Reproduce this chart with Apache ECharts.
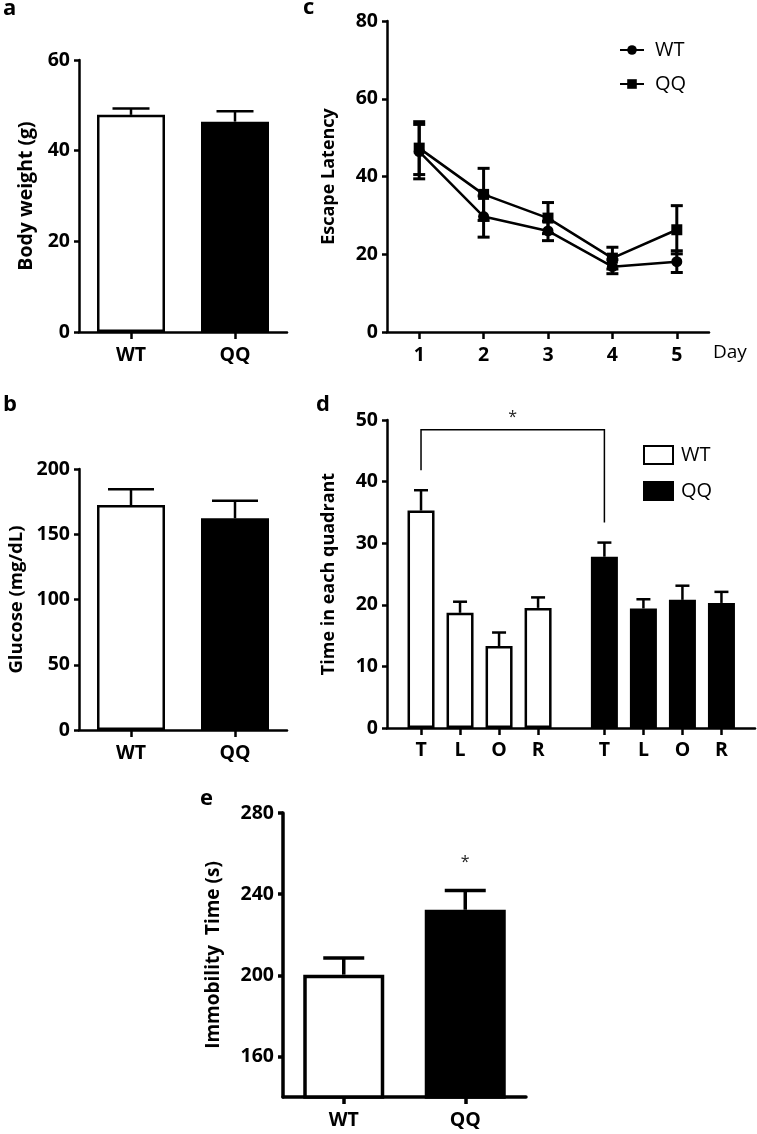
<!DOCTYPE html>
<html>
<head>
<meta charset="utf-8">
<script src="https://cdn.jsdelivr.net/npm/echarts@6/dist/echarts.min.js"></script>
<style>
html,body{margin:0;padding:0;background:#fff;}
#chart{width:757px;height:1134px;}
</style>
</head>
<body>
<div id="chart"></div>
<script>
// ---------------- data ----------------
const groups = ['WT', 'QQ'];

const bodyWeight = [47.9, 46.4];
const bodyWeightSem = [1.4, 2.3];
const bodyWeightTicks = [0, 20, 40, 60];

const glucose = [172.4, 162.2];
const glucoseSem = [12.0, 13.5];
const glucoseTicks = [0, 50, 100, 150, 200];

const days = ['1', '2', '3', '4', '5'];
const wtLatency = [46.4, 29.7, 26.0, 16.8, 18.1];
const wtLatencySem = [7.0, 5.3, 2.5, 1.8, 2.8];
const qqLatency = [47.3, 35.4, 29.3, 19.0, 26.3];
const qqLatencySem = [6.8, 6.7, 4.0, 2.8, 6.2];
const latencyTicks = [0, 20, 40, 60, 80];

const quadrants = ['T', 'L', 'O', 'R'];
const wtQuadrant = [35.3, 18.7, 13.3, 19.5];
const wtQuadrantSem = [3.3, 1.8, 2.2, 1.7];
const qqQuadrant = [27.8, 19.4, 20.8, 20.3];
const qqQuadrantSem = [2.3, 1.5, 2.3, 1.8];
const quadrantTicks = [0, 10, 20, 30, 40, 50];
const quadrantBracketLevel = [48.4];   // height of the significance bracket

const immobility = [200.3, 232.3];
const immobilitySem = [8.2, 9.5];
const immobilityTicks = [160, 200, 240, 280];

// ---------------- layout / style ----------------
const FONT = 'Open Sans';
const BLACK = '#000';
const barStyles = [
  { color: '#fff', borderColor: BLACK, borderWidth: 2.5 },
  { color: BLACK, borderColor: BLACK, borderWidth: 2.5 }
];
const barStylesThick = [
  { color: '#fff', borderColor: BLACK, borderWidth: 3.5 },
  { color: BLACK, borderColor: BLACK, borderWidth: 3.5 }
];
const quadrantGroupOffset = 4.7;   // axis units between WT and QQ groups
const quadrantX = (g, i) => i + 1 + g * quadrantGroupOffset;

function errorBars(capW, lw, both) {
  return function (params, api) {
    const x = api.value(0), y = api.value(1), e = api.value(2);
    const c = api.coord([x, y]);
    const t = api.coord([x, y + e]);
    const b = api.coord([x, y - e]);
    const mk = (x1, y1, x2, y2) => ({
      type: 'line', shape: { x1, y1, x2, y2 },
      style: { stroke: BLACK, lineWidth: lw, lineCap: 'butt' }
    });
    const ch = [mk(c[0], c[1], t[0], t[1]), mk(t[0] - capW / 2, t[1], t[0] + capW / 2, t[1])];
    if (both) {
      ch.push(mk(c[0], c[1], b[0], b[1]));
      ch.push(mk(b[0] - capW / 2, b[1], b[0] + capW / 2, b[1]));
    }
    return { type: 'group', children: ch };
  };
}

function starAbove(offset) {
  return function (params, api) {
    const p = api.coord([api.value(0), api.value(1)]);
    return {
      type: 'text',
      style: { text: '*', x: p[0], y: p[1] - offset, align: 'center', verticalAlign: 'middle',
        font: '16px "' + FONT + '"', fill: '#222' }
    };
  };
}

function yAxis(gridIndex, min, max, ticks, name, nameGap, lw, nameSize) {
  return {
    type: 'value', gridIndex, min, max,
    name, nameLocation: 'middle', nameGap,
    nameTextStyle: { fontFamily: FONT, fontSize: nameSize, fontWeight: 'bold', color: BLACK },
    axisLine: { show: true, lineStyle: { color: BLACK, width: lw } },
    axisTick: { show: true, inside: false, length: 5, lineStyle: { color: BLACK, width: lw }, customValues: ticks },
    axisLabel: { show: true, margin: 9, fontFamily: FONT, fontSize: 19.5, fontWeight: 'bold', color: BLACK, customValues: ticks },
    splitLine: { show: false }
  };
}

function xCatAxis(gridIndex, data, lw) {
  return {
    type: 'category', gridIndex, data, boundaryGap: true,
    axisLine: { show: true, onZero: false, lineStyle: { color: BLACK, width: lw } },
    axisTick: { show: true, alignWithLabel: true, interval: 0, length: 7, lineStyle: { color: BLACK, width: lw } },
    axisLabel: { show: true, interval: 0, margin: 13, fontFamily: FONT, fontSize: 19.5, fontWeight: 'bold', color: BLACK },
    splitLine: { show: false }
  };
}

const quadrantTickPos = [];
const quadrantTickLabels = [];
[0, 1].forEach(g => quadrants.forEach((q, i) => { quadrantTickPos.push(quadrantX(g, i)); quadrantTickLabels.push(q); }));

const xQuadrantAxis = {
  type: 'value', gridIndex: 3, min: 0.128, max: 9.56,
  axisLine: { show: true, onZero: false, lineStyle: { color: BLACK, width: 2.5 } },
  axisTick: { show: true, length: 7, lineStyle: { color: BLACK, width: 2.5 }, customValues: quadrantTickPos },
  axisLabel: {
    show: true, margin: 12, fontFamily: FONT, fontSize: 19.5, fontWeight: 'bold', color: BLACK,
    customValues: quadrantTickPos,
    formatter: v => {
      let best = 0;
      quadrantTickPos.forEach((p, i) => { if (Math.abs(p - v) < Math.abs(quadrantTickPos[best] - v)) best = i; });
      return quadrantTickLabels[best];
    }
  },
  splitLine: { show: false }
};

const xLatencyAxis = xCatAxis(2, days, 2.5);
xLatencyAxis.name = 'Day';
xLatencyAxis.nameLocation = 'end';
xLatencyAxis.nameGap = 4;
xLatencyAxis.nameTextStyle = { fontFamily: FONT, fontSize: 19, color: BLACK, verticalAlign: 'top', padding: [11, 0, 0, 0] };

const titleStyle = { fontFamily: FONT, fontSize: 22, fontWeight: 'bold', color: BLACK };

const option = {
  animation: false,
  backgroundColor: '#fff',
  textStyle: { fontFamily: FONT },
  title: [
    { text: 'a', left: 3, top: -2, textStyle: titleStyle, padding: 0 },
    { text: 'b', left: 3, top: 394, textStyle: titleStyle, padding: 0 },
    { text: 'c', left: 303, top: -3, textStyle: titleStyle, padding: 0 },
    { text: 'd', left: 316, top: 394, textStyle: titleStyle, padding: 0 },
    { text: 'e', left: 200, top: 788, textStyle: titleStyle, padding: 0 }
  ],
  legend: [
    {
      left: 614, top: 35, orient: 'vertical', selectedMode: false,
      data: ['WT latency', 'QQ latency'],
      formatter: n => n.split(' ')[0],
      itemWidth: 24, itemHeight: 12, itemGap: 14,
      textStyle: { fontFamily: FONT, fontSize: 20, color: BLACK, padding: [0, 0, 0, 6] }
    },
    {
      left: 638, top: 440, orient: 'vertical', selectedMode: false,
      data: ['WT quadrant', 'QQ quadrant'],
      formatter: n => n.split(' ')[0],
      icon: 'rect', itemWidth: 29, itemHeight: 18, itemGap: 16,
      textStyle: { fontFamily: FONT, fontSize: 20, color: BLACK, padding: [0, 0, 0, 3] }
    }
  ],
  grid: [
    { left: 79, top: 60, width: 208, height: 272 },
    { left: 79, top: 469, width: 208, height: 261 },
    { left: 387, top: 21, width: 322, height: 311 },
    { left: 387, top: 420, width: 368, height: 308 },
    { left: 283, top: 813, width: 243, height: 284 }
  ],
  xAxis: [
    xCatAxis(0, groups, 2.5),
    xCatAxis(1, groups, 2.5),
    xLatencyAxis,
    xQuadrantAxis,
    xCatAxis(4, groups, 3.5)
  ],
  yAxis: [
    yAxis(0, 0, 60, bodyWeightTicks, 'Body weight (g)', 43, 2.5, 19.5),
    yAxis(1, 0, 200, glucoseTicks, 'Glucose (mg/dL)', 53, 2.5, 18.5),
    yAxis(2, 0, 80, latencyTicks, 'Escape Latency', 49, 2.5, 18),
    yAxis(3, 0, 50, quadrantTicks, 'Time in each quadrant', 49, 2.5, 18),
    yAxis(4, 140, 280, immobilityTicks, 'Immobility  Time (s)', 60, 3.5, 19)
  ],
  series: [
    // a
    { name: 'Body weight', type: 'bar', xAxisIndex: 0, yAxisIndex: 0, barWidth: 68, silent: true,
      data: bodyWeight.map((v, i) => ({ value: v, itemStyle: barStyles[i] })) },
    { name: 'Body weight SEM', type: 'custom', xAxisIndex: 0, yAxisIndex: 0, silent: true, z: 5,
      renderItem: errorBars(37, 2.5, false), encode: { x: 0, y: 1 },
      data: groups.map((g, i) => [g, bodyWeight[i], bodyWeightSem[i]]) },
    // b
    { name: 'Glucose', type: 'bar', xAxisIndex: 1, yAxisIndex: 1, barWidth: 68, silent: true,
      data: glucose.map((v, i) => ({ value: v, itemStyle: barStyles[i] })) },
    { name: 'Glucose SEM', type: 'custom', xAxisIndex: 1, yAxisIndex: 1, silent: true, z: 5,
      renderItem: errorBars(46, 2.5, false), encode: { x: 0, y: 1 },
      data: groups.map((g, i) => [g, glucose[i], glucoseSem[i]]) },
    // c
    { name: 'WT latency', type: 'line', xAxisIndex: 2, yAxisIndex: 2, silent: true,
      symbol: 'circle', symbolSize: 11, z: 6,
      lineStyle: { color: BLACK, width: 2.5 }, itemStyle: { color: BLACK },
      data: wtLatency },
    { name: 'QQ latency', type: 'line', xAxisIndex: 2, yAxisIndex: 2, silent: true,
      symbol: 'rect', symbolSize: 11, z: 6,
      lineStyle: { color: BLACK, width: 2.5 }, itemStyle: { color: BLACK },
      data: qqLatency },
    { name: 'WT latency SEM', type: 'custom', xAxisIndex: 2, yAxisIndex: 2, silent: true, z: 5,
      renderItem: errorBars(12, 3, true), encode: { x: 0, y: 1 },
      data: days.map((d, i) => [d, wtLatency[i], wtLatencySem[i]]) },
    { name: 'QQ latency SEM', type: 'custom', xAxisIndex: 2, yAxisIndex: 2, silent: true, z: 5,
      renderItem: errorBars(12, 3, true), encode: { x: 0, y: 1 },
      data: days.map((d, i) => [d, qqLatency[i], qqLatencySem[i]]) },
    // d
    { name: 'WT quadrant', type: 'bar', xAxisIndex: 3, yAxisIndex: 3, barWidth: 27, silent: true,
      itemStyle: barStyles[0],
      data: wtQuadrant.map((v, i) => [quadrantX(0, i), v]) },
    { name: 'QQ quadrant', type: 'bar', xAxisIndex: 3, yAxisIndex: 3, barWidth: 27, barGap: '-100%', silent: true,
      itemStyle: barStyles[1],
      data: qqQuadrant.map((v, i) => [quadrantX(1, i), v]) },
    { name: 'WT quadrant SEM', type: 'custom', xAxisIndex: 3, yAxisIndex: 3, silent: true, z: 5,
      renderItem: errorBars(14, 2.5, false), encode: { x: 0, y: 1 },
      data: wtQuadrant.map((v, i) => [quadrantX(0, i), v, wtQuadrantSem[i]]) },
    { name: 'QQ quadrant SEM', type: 'custom', xAxisIndex: 3, yAxisIndex: 3, silent: true, z: 5,
      renderItem: errorBars(14, 2.5, false), encode: { x: 0, y: 1 },
      data: qqQuadrant.map((v, i) => [quadrantX(1, i), v, qqQuadrantSem[i]]) },
    { name: 'Quadrant significance', type: 'custom', xAxisIndex: 3, yAxisIndex: 3, silent: true, z: 5,
      encode: { x: 0, y: 1 },
      renderItem: function (params, api) {
        const x1 = api.value(0), x2 = api.value(1), lvl = api.value(2);
        const yl = api.value(3), yr = api.value(4);
        const pl = api.coord([x1, lvl]), pr = api.coord([x2, lvl]);
        const el = api.coord([x1, yl]), er = api.coord([x2, yr]);
        const st = () => ({ stroke: BLACK, lineWidth: 1.5, fill: null });
        return {
          type: 'group', children: [
            { type: 'polyline', shape: { points: [[pl[0], el[1] - 20], pl, pr, [pr[0], er[1] - 20]] }, style: st() },
            { type: 'text', style: { text: '*', x: (pl[0] + pr[0]) / 2, y: pl[1] - 12, align: 'center', verticalAlign: 'middle',
              font: '16px "' + FONT + '"', fill: '#222' } }
          ]
        };
      },
      data: [[quadrantX(0, 0), quadrantX(1, 0), quadrantBracketLevel[0],
              wtQuadrant[0] + wtQuadrantSem[0], qqQuadrant[0] + qqQuadrantSem[0]]] },
    // e
    { name: 'Immobility', type: 'bar', xAxisIndex: 4, yAxisIndex: 4, barWidth: 81, silent: true,
      data: immobility.map((v, i) => ({ value: v, itemStyle: barStylesThick[i] })) },
    { name: 'Immobility SEM', type: 'custom', xAxisIndex: 4, yAxisIndex: 4, silent: true, z: 5,
      renderItem: errorBars(41, 3.5, false), encode: { x: 0, y: 1 },
      data: groups.map((g, i) => [g, immobility[i], immobilitySem[i]]) },
    { name: 'Immobility significance', type: 'custom', xAxisIndex: 4, yAxisIndex: 4, silent: true, z: 5,
      renderItem: starAbove(28), encode: { x: 0, y: 1 },
      data: [[groups[1], immobility[1] + immobilitySem[1]]] }
  ]
};

const chart = echarts.init(document.getElementById('chart'), null, { renderer: 'canvas' });
chart.setOption(option);
</script>
</body>
</html>
